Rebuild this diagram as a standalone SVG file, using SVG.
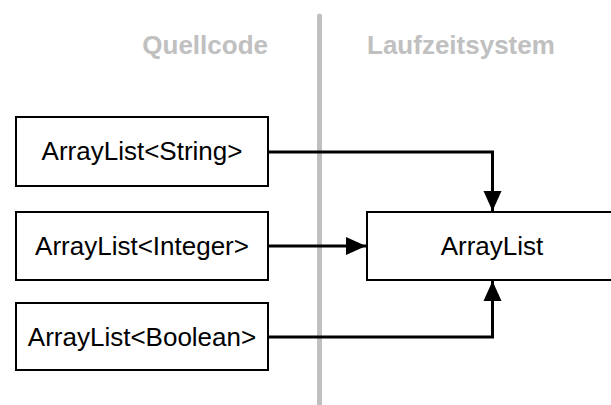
<svg xmlns="http://www.w3.org/2000/svg" width="611" height="405" viewBox="0 0 611 405">
<style>
.box{fill:#fff;stroke:#000;stroke-width:2}
.lbl{font-family:"Liberation Sans",Arial,sans-serif;font-size:26px;fill:#000;text-anchor:middle}
.hd{font-family:"Liberation Sans",Arial,sans-serif;font-size:26px;font-weight:bold;fill:#c0c0c0}
.con{fill:none;stroke:#000;stroke-width:3}
</style>
<defs>
<marker id="ah" viewBox="0 0 20 20" refX="20" refY="10" markerWidth="20" markerHeight="20" markerUnits="userSpaceOnUse" orient="auto">
<path d="M0,1 L20,10 L0,19 Z" fill="#000"/>
</marker>
</defs>
<line x1="319.5" y1="16" x2="319.5" y2="410" stroke="#c0c0c0" stroke-width="5" stroke-linecap="round"/>
<text class="hd" x="268" y="54" text-anchor="end">Quellcode</text>
<text class="hd" x="367" y="54">Laufzeitsystem</text>
<g id="n1"><rect class="box" x="16" y="117" width="252" height="69"/><text class="lbl" x="142" y="160">ArrayList&lt;String&gt;</text></g>
<g id="n2"><rect class="box" x="16" y="212" width="252" height="68"/><text class="lbl" x="142" y="255">ArrayList&lt;Integer&gt;</text></g>
<g id="n3"><rect class="box" x="16" y="303" width="252" height="67"/><text class="lbl" x="142" y="346">ArrayList&lt;Boolean&gt;</text></g>
<g id="n4"><rect class="box" x="367" y="212" width="252" height="68"/><text class="lbl" x="492" y="255">ArrayList</text></g>
<g id="connectors">
<path class="con" d="M268,152 H492.5 V211" marker-end="url(#ah)"/>
<path class="con" d="M268,246 H366" marker-end="url(#ah)"/>
<path class="con" d="M268,337 H492.5 V281" marker-end="url(#ah)"/>
</g>
</svg>
